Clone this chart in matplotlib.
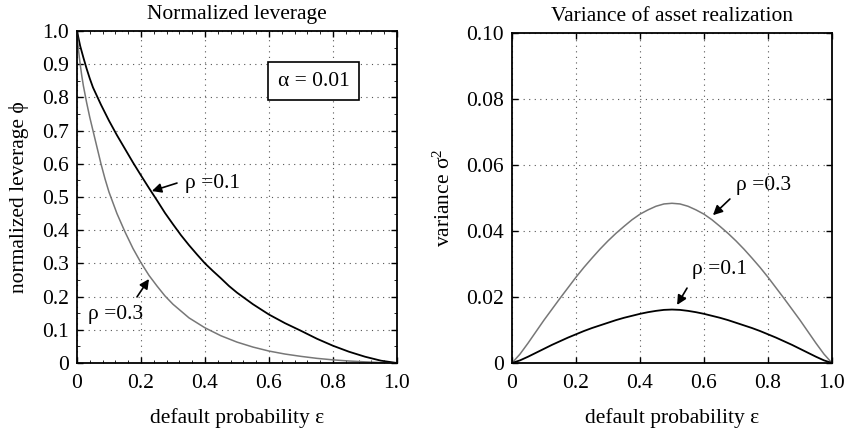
import matplotlib
matplotlib.use('Agg')
from matplotlib import pyplot as plt
from matplotlib.ticker import MultipleLocator

plt.rcParams['font.family'] = ['Liberation Serif', 'DejaVu Serif']
plt.rcParams['font.size'] = 15.5
plt.rcParams['mathtext.fontset'] = 'custom'
plt.rcParams['mathtext.rm'] = 'Liberation Serif'
plt.rcParams['mathtext.it'] = 'Liberation Serif:italic'

# normalized leverage, rho = 0.1
eps_lev_01 = [0.0, 0.01, 0.02, 0.03, 0.04, 0.05, 0.075, 0.10, 0.125, 0.15, 0.175,
              0.20, 0.225, 0.25, 0.275, 0.30, 0.325, 0.35, 0.375, 0.40, 0.425,
              0.45, 0.475, 0.50, 0.55, 0.60, 0.65, 0.70, 0.75, 0.80, 0.85,
              0.90, 0.95, 1.0]
lev_01 = [1.0, 0.955, 0.92, 0.887, 0.857, 0.83, 0.778, 0.73, 0.686, 0.645, 0.604,
          0.565, 0.527, 0.49, 0.452, 0.418, 0.385, 0.355, 0.327, 0.30, 0.277,
          0.255, 0.232, 0.212, 0.177, 0.146, 0.12, 0.097, 0.073, 0.052, 0.034,
          0.019, 0.007, 0.0]

# normalized leverage, rho = 0.3
eps_lev_03 = [0.0, 0.0025, 0.005, 0.0075, 0.01, 0.015, 0.02, 0.03, 0.04, 0.05,
              0.0625, 0.075, 0.0875, 0.10, 0.125, 0.15, 0.175, 0.20, 0.225, 0.25,
              0.275, 0.30, 0.35, 0.40, 0.45, 0.50, 0.55, 0.60, 0.65, 0.70, 0.75,
              0.80, 0.85, 0.90, 0.95, 1.0]
lev_03 = [1.0, 0.965, 0.94, 0.92, 0.90, 0.865, 0.835, 0.785, 0.74, 0.70,
          0.65, 0.60, 0.555, 0.515, 0.45, 0.395, 0.345, 0.302, 0.264, 0.232,
          0.202, 0.177, 0.136, 0.106, 0.082, 0.063, 0.048, 0.036, 0.027, 0.02, 0.014,
          0.0095, 0.006, 0.0035, 0.0013, 0.0]

# variance of asset realization
eps_var = [0.0, 0.025, 0.05, 0.075, 0.10, 0.125, 0.15, 0.175, 0.20, 0.225, 0.25,
           0.275, 0.30, 0.325, 0.35, 0.375, 0.40, 0.425, 0.45, 0.475, 0.50,
           0.525, 0.55, 0.575, 0.60, 0.625, 0.65, 0.675, 0.70, 0.725, 0.75,
           0.775, 0.80, 0.825, 0.85, 0.875, 0.90, 0.925, 0.95, 0.975, 1.0]
var_03 = [0.0, 0.0027, 0.006, 0.0095, 0.013, 0.0163, 0.0196, 0.0228, 0.026, 0.029, 0.0318,
          0.0345, 0.037, 0.0393, 0.0414, 0.0434, 0.0451, 0.0464, 0.0475, 0.0482, 0.0484,
          0.0482, 0.0475, 0.0464, 0.0451, 0.0434, 0.0414, 0.0393, 0.037, 0.0345, 0.0318,
          0.029, 0.026, 0.0228, 0.0196, 0.0163, 0.013, 0.0095, 0.006, 0.0027, 0.0]
var_01 = [0.0, 0.0008, 0.0019, 0.0031, 0.0043, 0.0055, 0.0066, 0.0077, 0.0087, 0.0097, 0.0106,
          0.0114, 0.0122, 0.013, 0.0137, 0.0143, 0.0149, 0.0154, 0.0158, 0.0161, 0.0162,
          0.0161, 0.0158, 0.0154, 0.0149, 0.0143, 0.0137, 0.013, 0.0122, 0.0114, 0.0106,
          0.0097, 0.0087, 0.0077, 0.0066, 0.0055, 0.0043, 0.0031, 0.0019, 0.0008, 0.0]

x_ticks = [0, 0.2, 0.4, 0.6, 0.8, 1.0]
x_labels = ['0', '0.2', '0.4', '0.6', '0.8', '1.0']
lev_ticks = [0, 0.1, 0.2, 0.3, 0.4, 0.5, 0.6, 0.7, 0.8, 0.9, 1.0]
lev_labels = ['0', '0.1', '0.2', '0.3', '0.4', '0.5', '0.6', '0.7', '0.8', '0.9', '1.0']
var_ticks = [0, 0.02, 0.04, 0.06, 0.08, 0.10]
var_labels = ['0', '0.02', '0.04', '0.06', '0.08', '0.10']

gray = '#777777'
fs = 15.5

fig = plt.figure(figsize=(8.45, 4.32), dpi=100)
ax1 = fig.add_axes([0.0911, 0.1597, 0.3787, 0.7685])
ax2 = fig.add_axes([0.6059, 0.1597, 0.3787, 0.7639])


def style(ax):
    ax.grid(True, linestyle=(0, (1, 4)), color='#555555', linewidth=0.8)
    ax.tick_params(direction='in', top=True, right=True, length=4, width=1,
                   labelsize=fs)
    ax.tick_params(axis='x', pad=8)
    ax.tick_params(axis='y', pad=6)
    for s in ax.spines.values():
        s.set_linewidth(1.3)


ax1.plot(eps_lev_01, lev_01, color='black', lw=1.3)
ax1.plot(eps_lev_03, lev_03, color=gray, lw=1.1)
ax1.set_xlim(0, 1)
ax1.set_ylim(0, 1)
ax1.set_xticks(x_ticks, x_labels)
ax1.set_yticks(lev_ticks, lev_labels)
ax1.xaxis.set_minor_locator(MultipleLocator(0.04))
ax1.yaxis.set_minor_locator(MultipleLocator(0.05))
ax1.tick_params(which='minor', direction='in', top=True, right=True, length=2.5)
style(ax1)
ax1.set_title('Normalized leverage', fontsize=fs, pad=9)
ax1.set_xlabel('default probability ε', fontsize=fs, labelpad=11)
ax1.set_ylabel('normalized leverage \u03d5', fontsize=fs, labelpad=9)

arrow = dict(arrowstyle='-|>', color='black', lw=1.2, mutation_scale=14,
             shrinkA=0, shrinkB=0)
ax1.text(0.3375, 0.542, 'ρ =0.1', ha='left', va='center', fontsize=fs)
ax1.annotate('', xy=(0.234, 0.518), xytext=(0.3125, 0.542), arrowprops=arrow)
ax1.text(0.034, 0.145, 'ρ =0.3', ha='left', va='center', fontsize=fs)
ax1.annotate('', xy=(0.225, 0.253), xytext=(0.1875, 0.199), arrowprops=arrow)
ax1.text(0.74, 0.849, 'α = 0.01', ha='center', va='center', fontsize=fs,
         bbox=dict(boxstyle='square,pad=0.45', fc='white', ec='black', lw=1.2))

ax2.plot(eps_var, var_03, color=gray, lw=1.1)
ax2.plot(eps_var, var_01, color='black', lw=1.3)
ax2.set_xlim(0, 1)
ax2.set_ylim(0, 0.1)
ax2.set_xticks(x_ticks, x_labels)
ax2.set_yticks(var_ticks, var_labels)
style(ax2)
ax2.set_title('Variance of asset realization', fontsize=fs, pad=9)
ax2.set_xlabel('default probability ε', fontsize=fs, labelpad=11)
ax2.set_ylabel('variance σ$^2$', fontsize=fs, labelpad=8)

ax2.text(0.70, 0.0539, 'ρ =0.3', ha='left', va='center', fontsize=fs)
ax2.annotate('', xy=(0.628, 0.0448), xytext=(0.681, 0.0497), arrowprops=arrow)
ax2.text(0.5625, 0.0282, 'ρ =0.1', ha='left', va='center', fontsize=fs)
ax2.annotate('', xy=(0.516, 0.0176), xytext=(0.547, 0.0227), arrowprops=arrow)

fig.savefig('out.png', dpi=100)
